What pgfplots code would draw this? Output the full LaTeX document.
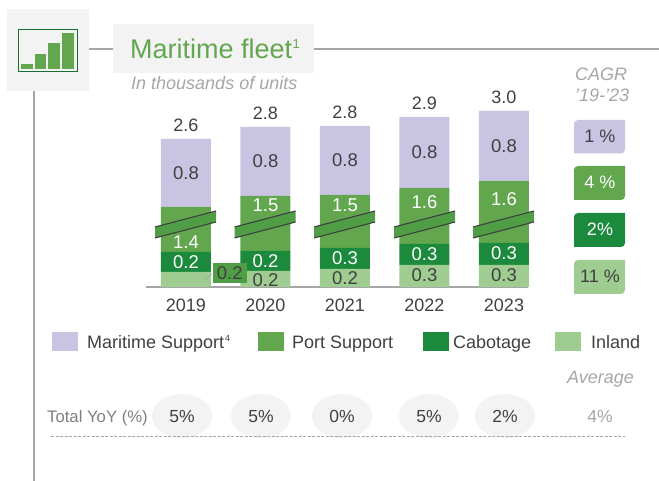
\documentclass[border=0pt]{standalone}
\usepackage{fontspec}
\setmainfont{Liberation Sans}
\usepackage{pgfplots}
\usepackage{pgfplotstable}
\pgfplotsset{compat=1.18}
\definecolor{cMar}{HTML}{C9C4E2}
\definecolor{cPort}{HTML}{62A74E}
\definecolor{cCab}{HTML}{1C8A3C}
\definecolor{cInl}{HTML}{9FCD91}
\definecolor{cBrk}{HTML}{4F9E45}
\definecolor{cTxt}{HTML}{404040}
\definecolor{cGr}{HTML}{A6A6A6}
\definecolor{cBg}{HTML}{F3F3F3}
% Bar segments are stored as drawn heights (the reference has a broken axis)
\pgfplotstableread{
x inl cab port mar
0 15 20 45 68
1 16 20 55 69
2 18 21 53 69
3 22 21 56 71
4 22 22 62 70
}\bars
\pgfplotstableread{
x y lab
0 114 0.8
1 126 0.8
2 127 0.8
3 135 0.8
4 141 0.8
}\darkA
\pgfplotstableread{
x y lab
1 7 0.2
2 9 0.2
3 12 0.3
4 12 0.3
}\darkB
\pgfplotstableread{
x y lab
0 45 1.4
1 82 1.5
2 82 1.5
3 85 1.6
4 88 1.6
0 25 0.2
1 26 0.2
2 29 0.3
3 33 0.3
4 34 0.3
}\whites
\pgfplotstableread{
x y lab
0 162 2.6
1 174 2.8
2 175 2.8
3 184 2.9
4 190 3.0
}\totals
\newcommand{\fs}[1]{\fontsize{#1}{#1}\selectfont}
\newcommand{\badge}[5]{% y1 y2 colour textcolour text
  \fill[#3] (574,#1+3) -- (574,#2) -- (621,#2) arc[start angle=-90,end angle=0,x radius=4,y radius=-4] -- (625,#1) -- (578,#1) arc[start angle=90,end angle=180,x radius=4,y radius=-4] -- cycle;
  \node[anchor=base,inner sep=0,text=#4,font=\fs{18}] at (600,{(#1+#2)/2+6}) {#5};}
\newcommand{\brk}[1]{%
  \fill[cBrk] (#1-31,227) -- (#1+30,211) -- (#1+30,222) -- (#1-31,238) -- cycle;
  \draw[cTxt,line width=1.1pt] (#1-31,227) -- (#1+30,211);
  \draw[cTxt,line width=1.1pt] (#1-31,238) -- (#1+30,222);}
\newcommand{\yoyoval}[2]{%
  \fill[cBg] (#1,416) ellipse[x radius=30,y radius=22];
  \node[anchor=base,inner sep=0,text=cTxt,font=\fs{17.5}] at (#1,422.5) {#2};}
\tikzset{tx/.style={anchor=base west,inner sep=0}}
\begin{document}
\begin{tikzpicture}
\begin{scope}[x=1pt,y=-1pt,shift={(0pt,481pt)}]
\path[use as bounding box] (0,0) rectangle (659,481);
% header
\fill[cBg] (7,9) rectangle (89,91);
\fill[cBg] (113,24) rectangle (314,73);
\draw[cGr,line width=1.2pt] (89,49) -- (113,49);
\draw[cGr,line width=1.2pt] (314,49) -- (659,49);
\draw[cGr,line width=1.2pt] (34,91) -- (34,481);
\draw[cCab!80!black,line width=1pt] (18,30) rectangle (77,72);
\fill[cPort] (21,64) rectangle (33,69);
\fill[cPort] (35,54) rectangle (46,69);
\fill[cPort] (48,43) rectangle (60,69);
\fill[cPort] (62,33) rectangle (74,69);
\node[tx,text=cPort,font=\fs{27}] at (130,59) {Maritime fleet};
\node[tx,text=cPort,font=\fs{13}] at (292.5,49) {1};
\node[tx,text=cGr,font=\fs{18}\itshape] at (131,90) {In thousands of units};
\node[tx,text=cGr,font=\fs{18}\itshape] at (575,81) {CAGR};
\node[tx,text=cGr,font=\fs{18}\itshape] at (575,102) {'19-'23};
% CAGR
\badge{120}{153.5}{cMar}{cTxt}{1 \%}
\badge{166}{200}{cPort}{white}{4 \%}
\badge{213}{247}{cCab}{white}{2\%}
\badge{260}{294}{cInl}{cTxt}{11 \%}
% legend
\fill[cMar] (52,332) rectangle (78,351);
\fill[cPort] (258,332) rectangle (284,351);
\fill[cCab] (423,332) rectangle (449,351);
\fill[cInl] (555,332) rectangle (581,351);
\node[tx,text=cTxt,font=\fs{18}] at (87,349) {Maritime Support};
\node[tx,text=cTxt,font=\fs{9}] at (225,342) {4};
\node[tx,text=cTxt,font=\fs{18}] at (292,349) {Port Support};
\node[tx,text=cTxt,font=\fs{18}] at (453,349) {Cabotage};
\node[tx,text=cTxt,font=\fs{18}] at (591,349) {Inland};
% YoY
\node[tx,text=cGr,font=\fs{18}\itshape] at (567,384) {Average};
\node[tx,text=gray,font=\fs{16.7}] at (47,423) {Total YoY (\%)};
\yoyoval{182}{5\%}\yoyoval{261}{5\%}\yoyoval{342}{0\%}\yoyoval{429}{5\%}\yoyoval{505}{2\%}
\node[anchor=base,inner sep=0,text=cGr,font=\fs{17.5}] at (600,422.5) {4\%};
\draw[cGr,line width=1pt,dash pattern=on 3pt off 1.5pt] (51,437) -- (625,437);
\end{scope}
\begin{axis}[
  at={(146pt,194pt)},anchor=south west,scale only axis,width=382pt,height=190pt,
  xmin=-0.503,xmax=4.302,ymin=0,ymax=190,
  ybar stacked,bar width=50pt,
  axis x line=bottom,axis y line=none,
  axis line style={cGr,line width=1.4pt,-},
  xtick={0,1,2,3,4},xticklabels={2019,2020,2021,2022,2023},
  tick style={draw=none},
  x tick label style={text=cTxt,font=\fs{18},yshift=-6pt},
  clip=false,
]
\addplot[draw=none,fill=cInl] table[x=x,y=inl]{\bars};
\addplot[draw=none,fill=cCab] table[x=x,y=cab]{\bars};
\addplot[draw=none,fill=cPort] table[x=x,y=port]{\bars};
\addplot[draw=none,fill=cMar] table[x=x,y=mar]{\bars};
\end{axis}
\begin{scope}[x=1pt,y=-1pt,shift={(0pt,481pt)}]
\brk{186}\brk{265.5}\brk{345}\brk{425}\brk{504}
\draw[cGr,line width=0.7pt] (204,280) -- (212,274);
\end{scope}
\begin{axis}[
  at={(146pt,194pt)},anchor=south west,scale only axis,width=382pt,height=190pt,
  xmin=-0.503,xmax=4.302,ymin=0,ymax=190,
  hide axis,clip=false,
  nodes near coords,point meta=explicit symbolic,
  nodes near coords style={anchor=center,font=\fs{18.5}},
]
\addplot[only marks,mark=none,nodes near coords style={text=cTxt}] table[x=x,y=y,meta=lab]{\darkA};
\addplot[only marks,mark=none,nodes near coords style={text=cTxt}] table[x=x,y=y,meta=lab]{\darkB};
\addplot[only marks,mark=none,nodes near coords style={text=white}] table[x=x,y=y,meta=lab]{\whites};
\addplot[only marks,mark=none,nodes near coords style={text=cTxt,font=\fs{18}}] table[x=x,y=y,meta=lab]{\totals};
\addplot[only marks,mark=none,nodes near coords style={text=cTxt,fill=cBrk,minimum width=34pt,minimum height=20pt,inner sep=0pt}] coordinates {(0.55,14) [0.2]};
\end{axis}
\end{tikzpicture}
\end{document}
